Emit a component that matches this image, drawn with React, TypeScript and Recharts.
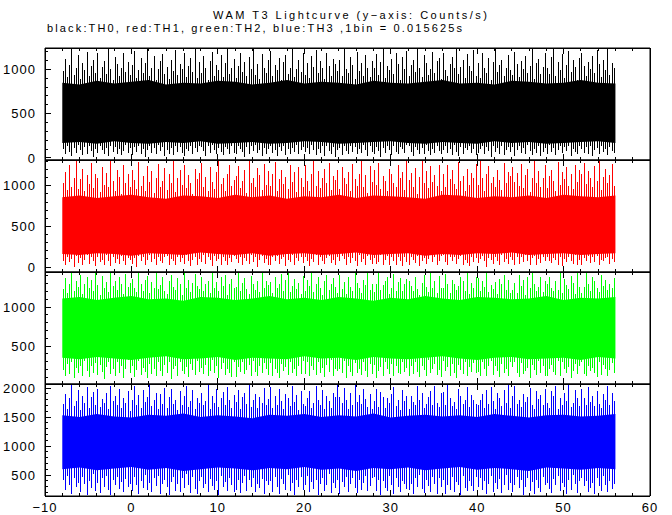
import { ComposedChart, Area, Bar, XAxis, YAxis, ReferenceArea } from 'recharts'

// time axis
const xMajor = [-10, 0, 10, 20, 30, 40, 50, 60]
const xMinor = [-10, -8, -6, -4, -2, 0, 2, 4, 6, 8, 10, 12, 14, 16, 18, 20, 22, 24, 26, 28, 30, 32, 34, 36, 38, 40, 42, 44, 46, 48, 50, 52, 54, 56, 58, 60]

// 0.25 s bins from -8 s, each holds the min and max count rate seen in it
const binStart = -8
const binWidth = 0.25
// dense part of the curve, sampled every 2 s
const coreTimes = [-8, -6, -4, -2, 0, 2, 4, 6, 8, 10, 12, 14, 16, 18, 20, 22, 24, 26, 28, 30, 32, 34, 36, 38, 40, 42, 44, 46, 48, 50, 52, 54, 56]

// TH0 (black)
const th0Hi = [
  980, 1120, 910, 1050, 1240, 940, 1010, 1160, 890, 1070, 990, 1200, 930, 1040, 1100, 960,
  1180, 900, 1030, 1090, 950, 1230, 1000, 880, 1140, 1060, 920, 1010, 1190, 970, 1080, 940,
  1050, 1210, 900, 990, 1130, 960, 1070, 1240, 920, 1020, 1150, 880, 1000, 1090, 1170, 950,
  1030, 890, 1110, 980, 1220, 940, 1060, 1000, 1180, 910, 1040, 1130, 970, 1240, 900, 1080,
  960, 1150, 1020, 880, 1090, 1200, 930, 1050, 990, 1160, 910, 1070, 1230, 950, 1010, 1120,
  900, 1040, 1190, 970, 1080, 920, 1140, 1000, 1240, 940, 1060, 890, 1170, 1020, 960, 1100,
  1210, 930, 1050, 990, 1130, 880, 1080, 1160, 950, 1020, 1240, 910, 1000, 1110, 970, 1190,
  940, 1070, 900, 1150, 1030, 1220, 960, 1090, 1010, 890, 1180, 1040, 930, 1120, 1060, 980,
  1100, 920, 1240, 1000, 960, 1140, 1050, 890, 1200, 980, 1070, 930, 1160, 1020, 910, 1090,
  1010, 1170, 940, 1080, 1230, 900, 1040, 990, 1120, 950, 1190, 1060, 880, 1140, 1000, 1210,
  930, 1050, 1110, 970, 1240, 1020, 910, 1160, 1070, 940, 1000, 1200, 960, 1090, 1130, 890,
  1180, 990, 920, 1060, 1140, 1010, 1240, 950, 1030, 1100, 900, 1170, 1040, 980, 1220, 930,
  1070, 900, 1190, 1020, 960, 1130, 880, 1080, 1240, 970, 1050, 1110, 920, 1010, 1160, 990,
  940, 1200, 1060, 910, 1090, 1000, 1150, 960, 1040, 1230, 890, 1070, 1120, 950, 1030, 1180,
  1010, 950, 1140, 1240, 920, 1080, 990, 1170, 900, 1050, 1210, 970, 1100, 1030, 880, 1130,
  1190, 1040, 930, 1080, 1000, 1150, 960, 1220, 1060, 910, 1110, 990, 1240, 940, 1070, 1020,
]
const th0Lo = [
  100, 40, 130, 70, 20, 110, 60, 150, 90, 30, 120, 50, 140, 80, 10, 100,
  60, 130, 90, 40, 110, 20, 140, 70, 120, 50, 100, 30, 80, 150, 60, 110,
  30, 120, 70, 140, 50, 100, 10, 90, 130, 60, 110, 40, 150, 80, 120, 20,
  90, 50, 110, 30, 140, 70, 120, 60, 20, 100, 80, 130, 40, 110, 70, 140,
  120, 80, 20, 130, 60, 150, 90, 40, 110, 70, 30, 120, 100, 50, 140, 60,
  40, 140, 100, 70, 10, 120, 50, 130, 80, 150, 60, 90, 20, 110, 40, 100,
  130, 60, 90, 20, 120, 80, 140, 30, 100, 50, 110, 70, 150, 40, 90, 120,
  70, 110, 40, 150, 90, 30, 100, 60, 130, 20, 140, 80, 50, 120, 10, 90,
  110, 30, 130, 80, 50, 140, 70, 120, 40, 100, 60, 150, 90, 20, 130, 70,
  50, 120, 80, 10, 110, 60, 140, 90, 30, 130, 70, 40, 120, 100, 60, 150,
  140, 70, 20, 120, 90, 40, 110, 50, 150, 80, 30, 100, 60, 130, 80, 40,
  90, 130, 60, 100, 30, 150, 70, 20, 120, 40, 110, 90, 140, 60, 100, 30,
  60, 100, 140, 40, 120, 80, 10, 130, 70, 110, 50, 140, 30, 90, 120, 70,
  120, 20, 90, 130, 60, 110, 40, 150, 80, 30, 100, 60, 130, 20, 70, 110,
  40, 150, 70, 110, 30, 90, 130, 60, 120, 80, 140, 20, 100, 70, 50, 130,
  100, 60, 120, 50, 140, 20, 90, 110, 40, 130, 70, 100, 30, 120, 80, 60,
]
const th0Top = [850, 830, 870, 840, 860, 880, 830, 850, 840, 870, 860, 830, 850, 880, 840, 860, 850, 830, 870, 850, 840, 860, 880, 840, 850, 830, 870, 860, 840, 850, 880, 850, 840]
const th0Bot = [170, 180, 160, 190, 170, 160, 180, 170, 190, 160, 170, 180, 160, 170, 190, 180, 160, 170, 180, 190, 170, 160, 180, 170, 160, 190, 170, 180, 160, 170, 180, 190, 170]

// TH1 (red)
const th1Hi = [
  1040, 1170, 950, 1260, 990, 1100, 1310, 960, 1080, 1210, 930, 1130, 1020, 1280, 970, 1150,
  1090, 920, 1230, 1010, 1160, 980, 1300, 1060, 940, 1190, 1110, 900, 1250, 1030, 1140, 990,
  1200, 1070, 960, 1290, 1000, 1120, 940, 1240, 1050, 1180, 910, 1100, 1270, 980, 1060, 1220,
  950, 1140, 1030, 1300, 920, 1090, 1190, 1010, 1260, 970, 1130, 1040, 900, 1210, 1080, 1160,
  1280, 990, 1110, 940, 1230, 1050, 960, 1170, 1310, 1020, 1090, 930, 1150, 1250, 1000, 1070,
  1120, 1240, 970, 1060, 1190, 910, 1300, 1040, 1100, 980, 1220, 1130, 950, 1270, 1010, 1180,
  1000, 1150, 1290, 930, 1080, 1200, 1020, 1110, 960, 1260, 1050, 1170, 920, 1230, 1090, 990,
  1250, 1060, 940, 1140, 1310, 1000, 1180, 970, 1090, 1210, 1030, 1280, 950, 1120, 1070, 1200,
  960, 1230, 1100, 1020, 1170, 940, 1270, 1080, 1000, 1150, 1300, 990, 1130, 910, 1240, 1050,
  1190, 1010, 1280, 960, 1120, 1060, 930, 1210, 1140, 1040, 980, 1250, 1090, 1170, 950, 1310,
  1070, 1160, 990, 1220, 900, 1110, 1300, 1030, 1180, 970, 1240, 1050, 1130, 1000, 1260, 940,
  1140, 980, 1250, 1080, 1190, 1020, 960, 1290, 1060, 1120, 930, 1210, 1010, 1160, 1100, 1270,
  1010, 1300, 1090, 940, 1150, 1240, 1040, 1110, 990, 1200, 1070, 950, 1280, 1030, 1170, 1120,
  1230, 1050, 1160, 1000, 1270, 970, 1130, 1210, 920, 1090, 1310, 1040, 1180, 980, 1100, 1250,
  970, 1120, 1200, 1060, 940, 1290, 1010, 1170, 1080, 1230, 1000, 1140, 960, 1260, 1050, 1190,
  1150, 1280, 1020, 1180, 1090, 990, 1240, 1060, 1300, 950, 1110, 1210, 1040, 1130, 1270, 1000,
]
const th1Lo = [
  80, 20, 130, 60, 100, 0, 140, 50, 110, 30, 90, 150, 40, 120, 70, 10,
  120, 60, 90, 30, 150, 80, 10, 130, 50, 100, 40, 140, 70, 20, 110, 90,
  40, 110, 0, 140, 70, 120, 30, 90, 150, 60, 100, 20, 130, 80, 50, 120,
  140, 30, 100, 80, 20, 130, 60, 110, 40, 150, 70, 10, 90, 120, 30, 100,
  60, 150, 40, 120, 90, 10, 140, 70, 100, 30, 130, 80, 20, 110, 60, 140,
  100, 50, 130, 20, 110, 80, 40, 150, 60, 120, 0, 90, 140, 50, 100, 30,
  20, 120, 70, 140, 40, 100, 130, 10, 90, 60, 150, 30, 110, 80, 130, 50,
  130, 80, 10, 100, 60, 150, 20, 120, 70, 40, 110, 140, 50, 90, 20, 120,
  70, 140, 100, 30, 130, 50, 110, 80, 10, 150, 60, 100, 30, 140, 90, 40,
  110, 40, 60, 150, 20, 90, 140, 30, 120, 70, 20, 130, 80, 10, 120, 60,
  30, 130, 90, 50, 140, 10, 70, 110, 40, 100, 150, 60, 120, 30, 80, 140,
  150, 60, 20, 120, 80, 130, 40, 100, 140, 20, 90, 50, 10, 130, 60, 110,
  50, 100, 140, 70, 0, 110, 90, 40, 130, 80, 30, 150, 60, 100, 40, 120,
  90, 20, 120, 40, 130, 60, 150, 70, 20, 110, 140, 30, 100, 50, 130, 80,
  130, 70, 50, 110, 90, 30, 120, 10, 100, 60, 130, 80, 40, 150, 20, 90,
  20, 110, 80, 140, 50, 120, 60, 140, 30, 90, 70, 110, 130, 40, 100, 60,
]
const th1Top = [860, 880, 850, 870, 890, 860, 840, 880, 870, 850, 890, 860, 880, 840, 870, 860, 890, 850, 880, 870, 860, 840, 890, 880, 850, 870, 860, 880, 850, 890, 870, 860, 880]
const th1Bot = [160, 150, 170, 160, 140, 170, 160, 150, 180, 160, 150, 170, 140, 160, 170, 150, 160, 180, 150, 160, 170, 140, 160, 150, 170, 160, 180, 150, 160, 170, 150, 160, 170]

// TH2 (green)
const th2Hi = [
  1230, 1370, 1180, 1300, 1440, 1210, 1330, 1260, 1410, 1170, 1290, 1390, 1240, 1350, 1200, 1430,
  1280, 1160, 1400, 1250, 1320, 1190, 1440, 1270, 1340, 1220, 1380, 1300, 1170, 1420, 1260, 1310,
  1360, 1240, 1190, 1430, 1290, 1210, 1350, 1400, 1180, 1320, 1250, 1440, 1230, 1280, 1390, 1200,
  1170, 1330, 1410, 1260, 1220, 1370, 1300, 1160, 1440, 1240, 1350, 1190, 1310, 1420, 1270, 1230,
  1390, 1210, 1290, 1340, 1180, 1430, 1250, 1320, 1200, 1380, 1270, 1410, 1160, 1300, 1360, 1240,
  1260, 1440, 1200, 1310, 1370, 1230, 1170, 1400, 1290, 1220, 1340, 1190, 1430, 1250, 1330, 1280,
  1320, 1180, 1380, 1240, 1300, 1420, 1210, 1350, 1440, 1190, 1270, 1360, 1230, 1310, 1170, 1400,
  1210, 1350, 1270, 1440, 1190, 1290, 1390, 1250, 1160, 1330, 1410, 1220, 1300, 1370, 1260, 1180,
  1410, 1230, 1320, 1170, 1380, 1260, 1200, 1430, 1310, 1240, 1180, 1350, 1280, 1440, 1220, 1300,
  1190, 1300, 1440, 1220, 1280, 1340, 1390, 1170, 1250, 1420, 1210, 1320, 1370, 1200, 1290, 1360,
  1340, 1270, 1200, 1390, 1230, 1160, 1310, 1410, 1260, 1190, 1440, 1240, 1330, 1180, 1400, 1250,
  1250, 1420, 1290, 1180, 1350, 1300, 1220, 1270, 1380, 1330, 1200, 1430, 1170, 1310, 1240, 1390,
  1370, 1200, 1340, 1260, 1440, 1190, 1280, 1230, 1320, 1170, 1360, 1290, 1410, 1220, 1350, 1180,
  1220, 1310, 1180, 1410, 1270, 1350, 1160, 1390, 1240, 1440, 1300, 1210, 1260, 1380, 1190, 1330,
  1300, 1390, 1250, 1200, 1330, 1220, 1430, 1180, 1360, 1280, 1230, 1400, 1310, 1170, 1440, 1260,
  1180, 1260, 1430, 1300, 1210, 1380, 1340, 1240, 1190, 1410, 1270, 1350, 1220, 1300, 1250, 1370,
]
const th2Lo = [
  190, 110, 270, 140, 300, 90, 220, 160, 250, 120, 310, 180, 100, 240, 150, 280,
  130, 260, 170, 80, 230, 300, 140, 200, 110, 290, 160, 240, 90, 210, 320, 150,
  250, 100, 190, 310, 130, 220, 170, 90, 270, 140, 200, 110, 300, 180, 120, 260,
  160, 290, 80, 210, 250, 120, 300, 180, 140, 230, 100, 270, 190, 130, 310, 170,
  220, 140, 260, 110, 180, 320, 150, 240, 90, 200, 280, 130, 210, 160, 100, 290,
  100, 230, 170, 300, 140, 190, 260, 110, 310, 170, 120, 250, 150, 280, 200, 130,
  280, 120, 210, 150, 90, 270, 180, 230, 130, 300, 160, 200, 110, 240, 140, 310,
  140, 300, 110, 250, 190, 130, 290, 160, 220, 100, 260, 170, 320, 120, 210, 180,
  200, 160, 310, 90, 240, 170, 120, 280, 150, 210, 130, 300, 180, 100, 270, 140,
  260, 90, 180, 230, 120, 300, 200, 140, 270, 110, 250, 160, 140, 290, 170, 220,
  120, 250, 140, 290, 170, 100, 240, 190, 110, 320, 150, 210, 270, 130, 190, 100,
  310, 180, 230, 120, 270, 150, 90, 260, 190, 140, 300, 110, 230, 170, 280, 150,
  170, 120, 290, 200, 110, 250, 310, 130, 240, 180, 100, 270, 150, 210, 120, 300,
  230, 300, 150, 100, 280, 140, 180, 220, 90, 260, 190, 130, 310, 160, 240, 110,
  110, 200, 260, 170, 130, 310, 120, 290, 200, 150, 230, 90, 180, 270, 140, 250,
  290, 140, 110, 240, 180, 220, 160, 100, 300, 130, 260, 210, 120, 190, 280, 160,
]
const th2Top = [1110, 1130, 1090, 1120, 1140, 1100, 1110, 1080, 1130, 1120, 1090, 1110, 1140, 1100, 1120, 1090, 1130, 1110, 1080, 1120, 1100, 1140, 1110, 1090, 1130, 1120, 1100, 1110, 1140, 1090, 1120, 1110, 1130]
const th2Bot = [350, 330, 360, 340, 320, 350, 370, 330, 340, 360, 320, 350, 340, 330, 370, 340, 350, 320, 360, 340, 330, 350, 370, 340, 320, 350, 360, 330, 340, 350, 320, 360, 340]

// TH3 (blue)
const th3Hi = [
  1720, 1900, 1640, 1820, 2050, 1690, 1780, 1960, 1620, 1870, 1740, 2010, 1660, 1850, 1930, 1710,
  1980, 1680, 1810, 1750, 1920, 1630, 2040, 1770, 1860, 1700, 1990, 1650, 1830, 1740, 1950, 1610,
  1790, 2030, 1700, 1880, 1650, 1970, 1760, 1840, 2060, 1690, 1800, 1920, 1630, 1890, 1720, 2000,
  1660, 1850, 1990, 1730, 1800, 1620, 1940, 1710, 1870, 2040, 1680, 1780, 1960, 1640, 1830, 1750,
  1910, 1700, 1780, 2050, 1640, 1860, 1740, 1980, 1670, 1820, 1930, 1710, 2020, 1790, 1650, 1880,
  1760, 1960, 1630, 1840, 1920, 1720, 2060, 1680, 1790, 1900, 1650, 1850, 1740, 2000, 1700, 1810,
  2010, 1650, 1870, 1710, 1980, 1770, 1640, 1890, 1820, 1690, 2040, 1760, 1880, 1620, 1950, 1730,
  1690, 1820, 1940, 1660, 1750, 2030, 1800, 1710, 1970, 1640, 1860, 1780, 1660, 1920, 1840, 2050,
  1850, 1740, 2000, 1790, 1630, 1910, 1700, 2060, 1760, 1880, 1720, 1990, 1810, 1670, 1900, 1640,
  1780, 1990, 1680, 1930, 1850, 1650, 1830, 1750, 1900, 2020, 1690, 1800, 1620, 1960, 1770, 1870,
  1640, 1870, 1760, 1710, 2040, 1800, 1920, 1660, 1730, 1850, 1950, 1700, 2030, 1750, 1680, 1910,
  1930, 1710, 2050, 1820, 1690, 1760, 1640, 1980, 1860, 1720, 1790, 2010, 1670, 1880, 1800, 1730,
  1700, 1800, 1890, 1650, 1960, 1730, 2020, 1780, 1640, 1920, 1830, 1690, 1970, 1740, 2060, 1660,
  1870, 2040, 1720, 1790, 1680, 1900, 1760, 1850, 2000, 1700, 1630, 1940, 1810, 1880, 1710, 1990,
  1750, 1660, 1950, 1870, 2030, 1640, 1820, 1710, 1910, 1780, 2050, 1680, 1750, 1960, 1830, 1690,
  1980, 1830, 1700, 2010, 1760, 1870, 1690, 1940, 1730, 1660, 1890, 1800, 2040, 1710, 1920, 1770,
]
const th3Lo = [
  410, 250, 490, 320, 180, 440, 290, 370, 210, 470, 340, 160, 400, 270, 510, 230,
  360, 190, 450, 300, 480, 240, 150, 420, 320, 460, 260, 380, 200, 430, 290, 350,
  220, 470, 330, 170, 400, 280, 500, 250, 370, 200, 450, 310, 490, 180, 340, 410,
  300, 160, 380, 460, 230, 350, 210, 440, 280, 520, 330, 190, 460, 260, 170, 390,
  470, 270, 350, 200, 430, 310, 240, 400, 160, 480, 290, 380, 220, 450, 330, 200,
  250, 420, 190, 360, 490, 230, 410, 300, 440, 210, 340, 270, 430, 170, 390, 320,
  390, 210, 460, 290, 180, 430, 340, 250, 500, 220, 370, 160, 410, 300, 470, 240,
  330, 490, 200, 380, 260, 410, 150, 350, 440, 230, 320, 510, 190, 360, 280, 420,
  180, 380, 300, 470, 210, 340, 450, 270, 190, 410, 250, 360, 490, 230, 310, 440,
  460, 230, 420, 160, 390, 280, 220, 480, 330, 170, 440, 290, 210, 400, 350, 260,
  240, 350, 170, 440, 300, 500, 260, 190, 420, 310, 200, 470, 340, 180, 450, 290,
  410, 180, 330, 250, 460, 200, 380, 320, 160, 490, 270, 230, 400, 310, 220, 470,
  290, 440, 240, 390, 170, 350, 480, 210, 370, 260, 430, 190, 320, 500, 240, 360,
  200, 320, 470, 280, 410, 150, 300, 450, 230, 380, 180, 420, 270, 210, 460, 330,
  370, 260, 190, 430, 330, 480, 220, 360, 290, 170, 410, 250, 500, 340, 190, 400,
  450, 310, 400, 210, 270, 360, 180, 440, 310, 230, 480, 330, 200, 390, 260, 350,
]
const th3Top = [1530, 1500, 1550, 1510, 1490, 1540, 1520, 1560, 1500, 1530, 1510, 1480, 1540, 1520, 1550, 1500, 1530, 1510, 1560, 1490, 1520, 1540, 1510, 1530, 1500, 1550, 1520, 1490, 1530, 1540, 1510, 1520, 1550]
const th3Bot = [600, 630, 580, 610, 640, 590, 620, 570, 600, 630, 610, 580, 620, 600, 640, 590, 610, 570, 620, 600, 630, 580, 610, 640, 590, 620, 600, 570, 630, 610, 590, 620, 600]

const W = 672
const LEFT = 45
const RIGHT = 22
const PANEL_H = 112
const FONT = '"Liberation Sans", Arial, sans-serif'

const toBins = (hi: number[], lo: number[]) =>
  hi.map((h, i) => ({ t: binStart + binWidth * (i + 0.5), spike: [lo[i], h] }))

const toCore = (top: number[], bot: number[]) =>
  coreTimes.map((t, i) => ({ t, core: [bot[i], top[i]] }))

const fmt = (v: number) => (v < 0 ? '\u2212' + Math.abs(v) : String(v))

interface PanelProps {
  hi: number[]
  lo: number[]
  top: number[]
  bot: number[]
  color: string
  domain: [number, number]
  yTicks: number[]
  yLabels: number[]
  last?: boolean
}

function Panel({ hi, lo, top, bot, color, domain, yTicks, yLabels, last }: PanelProps) {
  // axes need a non-zero height to be drawn, so give them 1px and shift the chart up by 1
  const bottomAxis = last ? 20 : 1
  const line = { stroke: '#000', strokeWidth: 1, shapeRendering: 'crispEdges' }

  const leftTick = (p: any) => {
    const major = yLabels.includes(p.payload.value)
    return (
      <g>
        <line x1={p.x} x2={p.x + (major ? 6 : 3)} y1={p.y} y2={p.y} {...line} />
        {major && (
          <text x={p.x - 9} y={p.y} dy="0.36em" textAnchor="end" fontSize={13} letterSpacing={1} fontFamily={FONT} fill="#000">
            {p.payload.value}
          </text>
        )}
      </g>
    )
  }
  const rightTick = (p: any) => {
    const major = yLabels.includes(p.payload.value)
    return <line x1={p.x} x2={p.x - (major ? 6 : 3)} y1={p.y} y2={p.y} {...line} />
  }
  const bottomTick = (p: any) => {
    const major = xMajor.includes(p.payload.value)
    return (
      <g>
        <line x1={p.x} x2={p.x} y1={p.y} y2={p.y - (major ? 6 : 3)} {...line} />
        {last && major && (
          <text x={p.x} y={p.y + 16} textAnchor="middle" fontSize={13} letterSpacing={1} fontFamily={FONT} fill="#000">
            {fmt(p.payload.value)}
          </text>
        )}
      </g>
    )
  }
  const topTick = (p: any) => {
    const major = xMajor.includes(p.payload.value)
    return <line x1={p.x} x2={p.x} y1={p.y} y2={p.y + (major ? 6 : 3)} {...line} />
  }

  return (
    <ComposedChart
      width={W}
      height={PANEL_H + bottomAxis + 1}
      data={toBins(hi, lo)}
      margin={{ top: 0, right: 0, bottom: 0, left: 0 }}
    >
      <XAxis xAxisId="b" dataKey="t" type="number" domain={[-10, 60]} ticks={xMinor} interval={0}
        height={bottomAxis} tickSize={0} tickMargin={0} axisLine={line} tickLine={false} tick={bottomTick} />
      <XAxis xAxisId="t" orientation="top" dataKey="t" type="number" domain={[-10, 60]} ticks={xMinor} interval={0}
        height={1} tickSize={0} tickMargin={0} axisLine={line} tickLine={false} tick={topTick} />
      <YAxis yAxisId="l" type="number" domain={domain} ticks={yTicks} interval={0} width={LEFT}
        tickSize={0} tickMargin={0} axisLine={line} tickLine={false} tick={leftTick} />
      <YAxis yAxisId="r" orientation="right" type="number" domain={domain} ticks={yTicks} interval={0} width={RIGHT}
        tickSize={0} tickMargin={0} axisLine={line} tickLine={false} tick={rightTick} />
      <Area xAxisId="b" yAxisId="l" data={toCore(top, bot)} dataKey="core" type="linear"
        stroke="none" fill={color} fillOpacity={1} dot={false} activeDot={false} isAnimationActive={false} />
      <Bar xAxisId="b" yAxisId="l" dataKey="spike" fill={color} barSize={1} shapeRendering="crispEdges" isAnimationActive={false} />
      <ReferenceArea xAxisId="b" yAxisId="l" x1={-10} x2={60} y1={domain[0]} y2={domain[1]}
        fill="none" stroke="#000" strokeWidth={1} ifOverflow="visible" />
    </ComposedChart>
  )
}

export default function App() {
  return (
    <div style={{ position: 'absolute', left: 0, top: 0, width: W, height: 515, background: '#fff', fontFamily: FONT }}>
      <style>{'.recharts-surface{overflow:visible}'}</style>
      <svg width={W} height={40} style={{ position: 'absolute', left: 0, top: 0 }}>
        <text x={213} y={19} fontSize={11} fontFamily={FONT} textLength={274} lengthAdjust="spacing" fill="#000">
          WAM T3 Lightcurve (y−axis: Counts/s)
        </text>
        <text x={47} y={32} fontSize={11} fontFamily={FONT} textLength={415} lengthAdjust="spacing" fill="#000">
          black:TH0, red:TH1, green:TH2, blue:TH3 ,1bin = 0.015625s
        </text>
      </svg>
      <div style={{ position: 'absolute', left: 0, top: 47 }}>
        <Panel hi={th0Hi} lo={th0Lo} top={th0Top} bot={th0Bot} color="#000000" domain={[-23, 1241]}
          yTicks={[0, 100, 200, 300, 400, 500, 600, 700, 800, 900, 1000, 1100, 1200]} yLabels={[0, 500, 1000]} />
      </div>
      <div style={{ position: 'absolute', left: 0, top: 159 }}>
        <Panel hi={th1Hi} lo={th1Lo} top={th1Top} bot={th1Bot} color="#ff0000" domain={[-60, 1317]}
          yTicks={[0, 100, 200, 300, 400, 500, 600, 700, 800, 900, 1000, 1100, 1200, 1300]} yLabels={[0, 500, 1000]} />
      </div>
      <div style={{ position: 'absolute', left: 0, top: 271 }}>
        <Panel hi={th2Hi} lo={th2Lo} top={th2Top} bot={th2Bot} color="#00ff00" domain={[13, 1449]}
          yTicks={[100, 200, 300, 400, 500, 600, 700, 800, 900, 1000, 1100, 1200, 1300, 1400]} yLabels={[500, 1000]} />
      </div>
      <div style={{ position: 'absolute', left: 0, top: 383 }}>
        <Panel hi={th3Hi} lo={th3Lo} top={th3Top} bot={th3Bot} color="#0000ff" domain={[138, 2069]}
          yTicks={[200, 300, 400, 500, 600, 700, 800, 900, 1000, 1100, 1200, 1300, 1400, 1500, 1600, 1700, 1800, 1900, 2000]}
          yLabels={[500, 1000, 1500, 2000]} last />
      </div>
    </div>
  )
}
